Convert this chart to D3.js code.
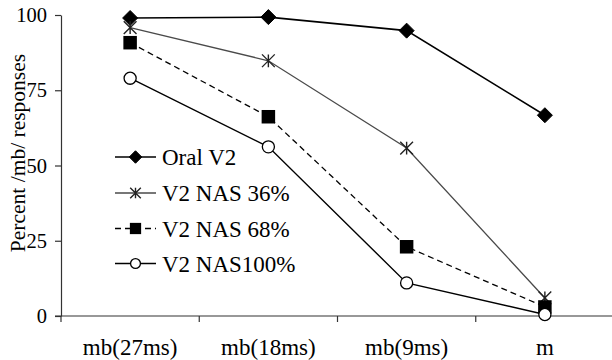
<!DOCTYPE html>
<html>
<head>
<meta charset="utf-8">
<script src="https://cdn.jsdelivr.net/npm/d3@7"></script>
<style>
  html, body { margin: 0; padding: 0; background: #fff; }
  svg text { font-family: "Liberation Serif", "Times New Roman", serif !important; }
</style>
</head>
<body>
<svg id="chart" width="612" height="360"></svg>
<script>
// ---- data ----
const categories = ["mb(27ms)", "mb(18ms)", "mb(9ms)", "m"];
const seriesNames = ["Oral V2", "V2 NAS 36%", "V2 NAS 68%", "V2 NAS100%"];
const oralV2 = [99, 99.3, 94.8, 66.7];
const nas36 = [95.8, 84.8, 55.8, 6];
const nas68 = [90.8, 66.2, 23, 3];
const nas100 = [79, 56.2, 11, 0.5];
const yTicks = [0, 25, 50, 75, 100];
const yTitle = "Percent /mb/ responses";

// ---- styles ----
const styles = [
  { color: "#000", stroke: 1.6, dash: null, marker: "diamond" },
  { color: "#4a4a4a", stroke: 1.3, dash: null, marker: "star" },
  { color: "#000", stroke: 1.3, dash: "6,4", marker: "square" },
  { color: "#000", stroke: 1.4, dash: null, marker: "circle" }
];
const seriesValues = [oralV2, nas36, nas68, nas100];

const svg = d3.select("#chart");
const x = d3.scaleBand().domain(categories).range([61, 614]).padding(0);
const y = d3.scaleLinear().domain([0, 100]).range([316, 15]);
const cx = c => x(c) + x.bandwidth() / 2;

// y axis
const yAxis = d3.axisLeft(y).tickValues(yTicks).tickSize(6).tickSizeOuter(0).tickPadding(8);
const gy = svg.append("g").attr("transform", "translate(61,0)").call(yAxis)
  .attr("font-family", null).attr("font-size", null);
gy.select(".domain").attr("stroke", "#333").attr("stroke-width", 1.2);
gy.selectAll(".tick line").attr("stroke", "#333").attr("stroke-width", 1.2);
gy.selectAll(".tick text").attr("font-size", 20.5).attr("fill", "#000");

// x axis
const gx = svg.append("g");
gx.append("line").attr("x1", 55).attr("x2", 612).attr("y1", y(0)).attr("y2", y(0))
  .attr("stroke", "#333").attr("stroke-width", 1.2);
gx.selectAll("line.tk").data(categories).enter().append("line").attr("class", "tk")
  .attr("x1", d => x(d)).attr("x2", d => x(d)).attr("y1", y(0)).attr("y2", y(0) + 6)
  .attr("stroke", "#333").attr("stroke-width", 1.2);
gx.selectAll("text").data(categories).enter().append("text")
  .attr("x", d => cx(d)).attr("y", 355).attr("text-anchor", "middle")
  .attr("font-size", 23).attr("fill", "#000").text(d => d);

// y title
svg.append("text").attr("transform", "translate(25,153) rotate(-90)")
  .attr("text-anchor", "middle").attr("font-size", 21.5).attr("fill", "#000").text(yTitle);

function drawMarker(g, type, px, py, size) {
  const h = size / 2;
  if (type === "diamond") {
    g.append("path").attr("d", `M${px},${py - h}L${px + h},${py}L${px},${py + h}L${px - h},${py}Z`)
      .attr("fill", "#000").attr("stroke", "#000").attr("stroke-width", 1);
  } else if (type === "square") {
    const s = size * 0.9 / 2;
    g.append("rect").attr("x", px - s).attr("y", py - s).attr("width", 2 * s).attr("height", 2 * s)
      .attr("fill", "#000");
  } else if (type === "circle") {
    g.append("circle").attr("cx", px).attr("cy", py).attr("r", size * 0.9 / 2 - 0.7)
      .attr("fill", "#fff").attr("stroke", "#000").attr("stroke-width", 1.3);
  } else if (type === "star") {
    const s = size * 0.85 / 2;
    g.append("path").attr("d",
      `M${px - s},${py - s}L${px + s},${py + s}M${px - s},${py + s}L${px + s},${py - s}M${px},${py - s}L${px},${py + s}`)
      .attr("stroke", "#222").attr("stroke-width", 1.4).attr("fill", "none");
  }
}

// series lines
const line = d3.line().x((d, i) => cx(categories[i])).y(d => y(d));
seriesValues.forEach((vals, si) => {
  const st = styles[si];
  svg.append("path").datum(vals).attr("d", line).attr("fill", "none")
    .attr("stroke", st.color).attr("stroke-width", st.stroke)
    .attr("stroke-dasharray", st.dash);
});
// markers
seriesValues.forEach((vals, si) => {
  const st = styles[si];
  const g = svg.append("g");
  vals.forEach((v, i) => drawMarker(g, st.marker, cx(categories[i]), y(v), 15));
});

// legend
const legendRows = [157, 193, 228.5, 263.5];
seriesNames.forEach((name, si) => {
  const st = styles[si];
  const g = svg.append("g");
  const ly = legendRows[si];
  g.append("line").attr("x1", 115).attr("x2", 156).attr("y1", ly).attr("y2", ly)
    .attr("stroke", st.color).attr("stroke-width", st.stroke).attr("stroke-dasharray", st.dash);
  drawMarker(g, st.marker, 135.5, ly, 12.5);
  g.append("text").attr("x", 162).attr("y", ly + 8).attr("font-size", 23).attr("fill", "#000").text(name);
});
</script>
</body>
</html>
